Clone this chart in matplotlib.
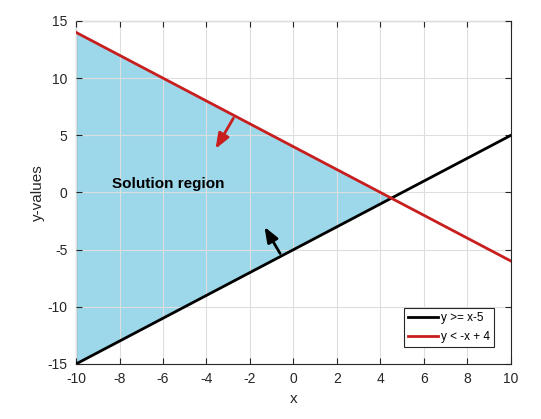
import numpy as np
import matplotlib
matplotlib.use('Agg')
import matplotlib.pyplot as plt

plt.rcParams['font.family'] = ['Liberation Sans', 'DejaVu Sans']
plt.rcParams['axes.unicode_minus'] = False

# Line endpoints and fill region
x_line = [-10, 10]
y_black = [-15, 5]      # y = x - 5
y_red = [14, -6]        # y = -x + 4
fill_x = [-10, 4.5, -10]
fill_y = [-15, -0.5, 14]

# Arrows (start, end)
red_arrow = [(-2.7, 6.7), (-3.65, 3.6)]
black_arrow = [(-0.55, -5.55), (-1.4, -2.8)]

xticks = list(range(-10, 11, 2))
yticks = list(range(-15, 16, 5))

fig = plt.figure(figsize=(5.41, 4.19), dpi=100)
ax = fig.add_axes([0.1405, 0.1313, 0.804, 0.8187])

ax.fill(fill_x, fill_y, color='#9dd8ea', zorder=1)
ax.plot(x_line, y_black, color='black', lw=2, label='y >= x-5', zorder=3)
ax.plot(x_line, y_red, color='#c81e1e', lw=2, label='y < -x + 4', zorder=3)

ax.annotate('', xy=red_arrow[1], xytext=red_arrow[0],
            arrowprops=dict(arrowstyle='-|>,head_width=0.25,head_length=0.65', color='#c81e1e', lw=2, mutation_scale=14), zorder=4)
ax.annotate('', xy=black_arrow[1], xytext=black_arrow[0],
            arrowprops=dict(arrowstyle='-|>,head_width=0.25,head_length=0.65', color='black', lw=2, mutation_scale=14), zorder=4)

ax.text(-8.35, 0.75, 'Solution region', fontsize=11, fontweight='bold', va='center')

ax.set_xlim(-10, 10)
ax.set_ylim(-15, 15)
ax.set_xticks(xticks)
ax.set_yticks(yticks)
ax.tick_params(direction='in', labelsize=10, length=4, pad=6, top=True, right=True,
               labeltop=False, labelright=False, colors='#262626')
ax.grid(True, color='#dedede', lw=0.8, zorder=2)
ax.set_axisbelow(False)
ax.set_xlabel('x', fontsize=11, color='#262626', labelpad=4)
ax.set_ylabel('y-values', fontsize=11, color='#262626', labelpad=2)
for s in ax.spines.values():
    s.set_linewidth(0.8)
    s.set_color('#262626')

leg = ax.legend(loc='lower right', fontsize=8.5, fancybox=False, edgecolor='#262626',
                framealpha=1, handlelength=2.5, borderaxespad=1.4, labelspacing=0.55,
                handletextpad=0.25, borderpad=0.4)
leg.get_frame().set_linewidth(0.8)

fig.savefig('out.png', dpi=100)
